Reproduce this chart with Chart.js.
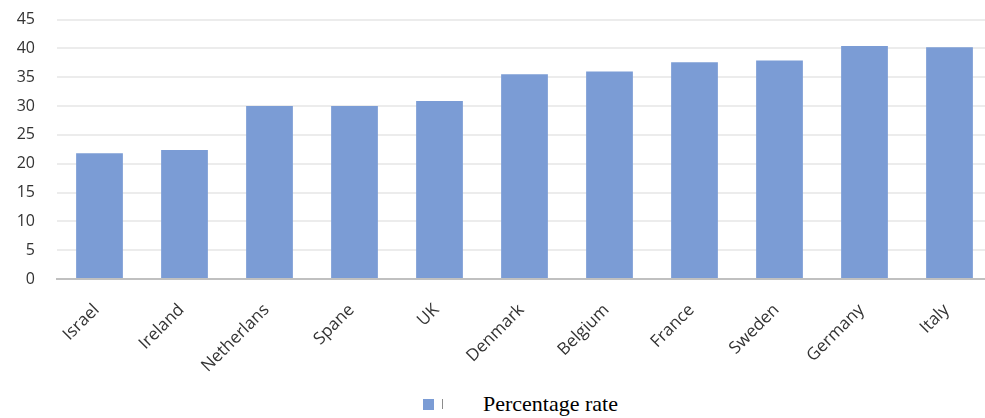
<!DOCTYPE html>
<html>
<head>
<meta charset="utf-8">
<script src="https://cdn.jsdelivr.net/npm/chart.js@4/dist/chart.umd.min.js"></script>
<style>
  html, body { margin: 0; padding: 0; background: #fff; overflow: hidden; width: 985px; height: 418px; position: relative; }
  #wrap { position: absolute; left: 0; top: -12px; width: 1000px; height: 387px; }
  #legend { position: absolute; left: 423px; top: 391px; height: 26px; display: flex; align-items: center; white-space: nowrap; }
  #legend .box { display: inline-block; width: 11px; height: 11px; background: #7b9cd5; }
  #legend .sep { display: inline-block; width: 1px; height: 10px; background: #8c8c8c; margin-left: 8px; }
  #legend .txt { margin-left: 40px; font-family: "Liberation Serif", "Times New Roman", serif; font-size: 22px; color: #000; }
</style>
</head>
<body>
<div id="wrap"><canvas id="c"></canvas></div>
<div id="legend"><span class="box"></span><span class="sep"></span><span class="txt">Percentage rate</span></div>
<script>
// Countries along the horizontal axis
const countries = ['Israel', 'Ireland', 'Netherlans', 'Spane', 'UK', 'Denmark', 'Belgium', 'France', 'Sweden', 'Germany', 'Italy'];
// Percentage rate per country
const rates = [21.8, 22.4, 30.0, 30.0, 30.9, 35.5, 36.0, 37.6, 37.9, 40.4, 40.2];
// Vertical axis ticks
const yTicks = [0, 5, 10, 15, 20, 25, 30, 35, 40, 45];

const barColor = '#7b9cd5';

new Chart(document.getElementById('c'), {
  type: 'bar',
  data: {
    labels: countries,
    datasets: [{
      label: 'Percentage rate',
      data: rates,
      backgroundColor: barColor,
      borderWidth: 0,
      categoryPercentage: 1.0,
      barPercentage: 0.55
    }]
  },
  options: {
    responsive: true,
    maintainAspectRatio: false,
    animation: false,
    layout: { padding: { top: 0, right: 8, left: 0, bottom: 0 } },
    plugins: {
      legend: { display: false },
      tooltip: { enabled: false }
    },
    scales: {
      x: {
        grid: { display: false },
        border: { display: true, color: '#c0c0c0', width: 2 },
        ticks: {
          autoSkip: false,
          maxRotation: 45,
          minRotation: 45,
          padding: 13,
          labelOffset: -3,
          color: '#333333',
          font: { family: '"Open Sans", "DejaVu Sans", sans-serif', size: 17 }
        },
        afterFit: (scale) => { scale.height = 96; }
      },
      y: {
        min: 0,
        max: 45,
        afterBuildTicks: (scale) => { scale.ticks = yTicks.map(v => ({ value: v })); },
        grid: { color: '#ececec', lineWidth: 2, drawTicks: false },
        border: { display: false },
        ticks: {
          padding: 22,
          color: '#333333',
          font: { family: '"Open Sans", "DejaVu Sans", sans-serif', size: 16 }
        },
        afterFit: (scale) => { scale.width = 57; }
      }
    }
  }
});
</script>
</body>
</html>
